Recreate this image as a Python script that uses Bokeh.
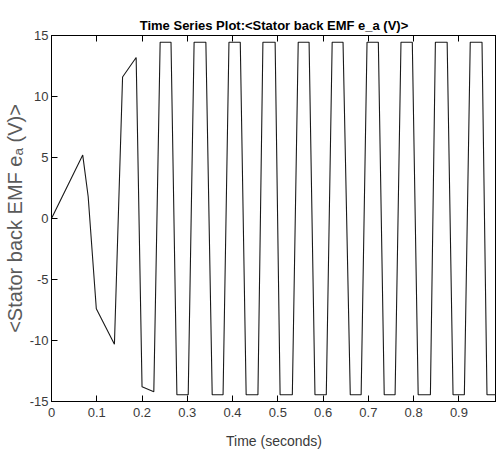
from bokeh.plotting import figure
from bokeh.models import Range1d, FixedTicker, LinearAxis
from bokeh.embed import file_html
from bokeh.resources import INLINE

# ---- data ----
t_start = [0.0, 0.069, 0.081, 0.099, 0.139, 0.157, 0.187, 0.200, 0.226]
v_start = [0.0, 5.2, 1.8, -7.4, -10.3, 11.6, 13.2, -13.8, -14.2]

top_on  = [0.240, 0.315, 0.392, 0.467, 0.545, 0.620, 0.697, 0.772, 0.848, 0.925]
top_off = [0.264, 0.341, 0.417, 0.494, 0.569, 0.644, 0.722, 0.797, 0.874, 0.951]
bot_on  = [0.277, 0.355, 0.430, 0.505, 0.582, 0.660, 0.735, 0.810, 0.887, 0.962]
bot_off = [0.302, 0.379, 0.456, 0.532, 0.607, 0.684, 0.759, 0.837, 0.912, 0.989]
v_high = 14.45
v_low = -14.45
t_end = [1.0]
v_end = [10.5]

x_ticks = [0, 0.1, 0.2, 0.3, 0.4, 0.5, 0.6, 0.7, 0.8, 0.9, 1.0]
x_tick_labels = ["0", "0.1", "0.2", "0.3", "0.4", "0.5", "0.6", "0.7", "0.8", "0.9", "1"]
y_ticks = [-15, -10, -5, 0, 5, 10, 15]
y_tick_labels = ["-15", "-10", "-5", "0", "5", "10", "15"]

# assemble the series
t = list(t_start)
v = list(v_start)
for a, b, c, d in zip(top_on, top_off, bot_on, bot_off):
    t += [a, b, c, d]
    v += [v_high, v_high, v_low, v_low]
t += t_end
v += v_end

FONT = "Liberation Sans"

p = figure(frame_width=445, frame_height=366, output_backend="svg", toolbar_location=None,
           x_range=Range1d(0, 0.983), y_range=Range1d(-15, 15),
           min_border_left=42, min_border_right=0, min_border_top=35,
           min_border_bottom=50)

p.title.text = "Time Series Plot:<Stator back EMF e_a (V)>"
p.title.align = "center"
p.title.text_font = FONT
p.title.text_font_style = "bold"
p.title.text_font_size = "13px"
p.title.text_color = "black"
p.title.standoff = 6

p.line(t, v, line_color="#1a1a1a", line_width=1.1)

p.xgrid.visible = False
p.ygrid.visible = False
p.background_fill_color = "white"
p.border_fill_color = "white"
p.outline_line_color = "black"
p.outline_line_alpha = 1
p.outline_line_width = 1

xa = p.xaxis[0]
xa.ticker = FixedTicker(ticks=x_ticks)
xa.major_label_overrides = dict(zip(x_ticks, x_tick_labels))
xa.minor_tick_line_color = None
xa.major_tick_in = 6
xa.major_tick_out = 0
xa.axis_line_color = "black"
xa.major_tick_line_color = "black"
xa.major_label_text_font = FONT
xa.major_label_text_font_size = "13px"
xa.major_label_text_color = "#3a3a3a"
xa.major_label_standoff = 6
xa.axis_label = "Time (seconds)"
xa.axis_label_text_font = FONT
xa.axis_label_text_font_style = "normal"
xa.axis_label_text_font_size = "14px"
xa.axis_label_text_color = "#3a3a3a"
xa.axis_label_standoff = 13

ya = p.yaxis[0]
ya.ticker = FixedTicker(ticks=y_ticks)
ya.major_label_overrides = dict(zip(y_ticks, y_tick_labels))
ya.minor_tick_line_color = None
ya.major_tick_in = 6
ya.major_tick_out = 0
ya.axis_line_color = "black"
ya.major_tick_line_color = "black"
ya.major_label_text_font = FONT
ya.major_label_text_font_size = "13px"
ya.major_label_text_color = "#3a3a3a"
ya.major_label_standoff = 3
ya.axis_label = "<Stator back EMF e\u2090 (V)>"
ya.axis_label_text_font = FONT
ya.axis_label_text_font_style = "normal"
ya.axis_label_text_font_size = "20px"
ya.axis_label_text_color = "#5a5a5a"
ya.axis_label_standoff = 1

top = LinearAxis(ticker=FixedTicker(ticks=x_ticks), major_tick_in=6, major_tick_out=0,
                 minor_tick_line_color=None, major_label_text_font_size="0px",
                 major_label_standoff=0, axis_line_color="black",
                 major_tick_line_color="black")
top.major_label_overrides = {k: "" for k in x_ticks}
p.add_layout(top, "above")

open("out.html", "w").write(file_html(p, INLINE))
